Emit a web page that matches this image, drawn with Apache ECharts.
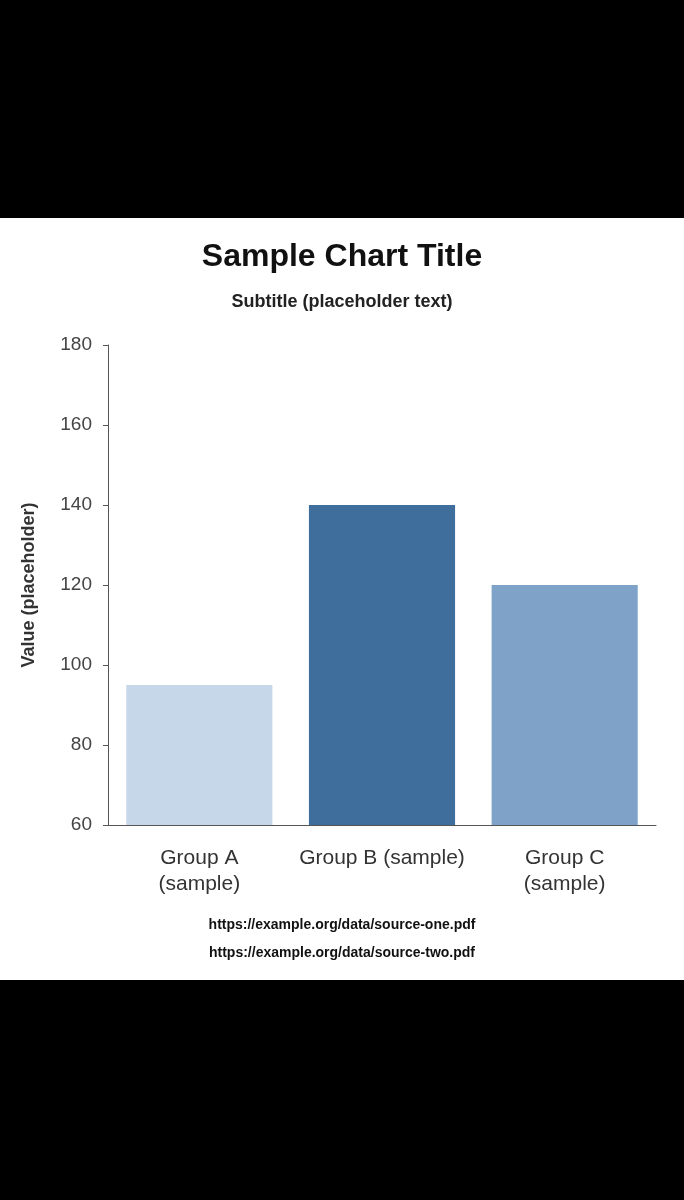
<!DOCTYPE html>
<html>
<head>
<meta charset="utf-8">
<script src="https://cdn.jsdelivr.net/npm/echarts@6/dist/echarts.min.js"></script>
<style>
  html, body { margin: 0; padding: 0; background: #000; }
  #panel { position: absolute; left: 0; top: 218px; width: 684px; height: 762px; background: #fff; }
  #chart { width: 684px; height: 762px; }
</style>
</head>
<body>
<div id="panel"><div id="chart"></div></div>
<script>
// neutral placeholder content, layout mirrors the reference
const categories = ['Group A\n(sample)', 'Group B (sample)', 'Group C\n(sample)']
const values = [95, 140, 120]
const barColors = ['#c6d7ea', '#3f6d9c', '#7fa3c8']
const sources = ['https://example.org/data/source-one.pdf', 'https://example.org/data/source-two.pdf']

const chart = echarts.init(document.getElementById('chart'))
chart.setOption({
  animation: false,
  title: [
    { text: 'Sample Chart Title', left: 'center', top: 18,
      textStyle: { fontFamily: 'Liberation Sans', fontWeight: 'bold', fontSize: 32, color: '#111' } },
    { text: 'Subtitle (placeholder text)', left: 'center', top: 70,
      textStyle: { fontFamily: 'Liberation Sans', fontWeight: 'bold', fontSize: 18, color: '#222' } },
    { text: sources.join('\n'), left: 'center', top: 688,
      textStyle: { fontFamily: 'Liberation Sans', fontSize: 14, color: '#111', lineHeight: 28 } }
  ],
  grid: { left: 108, right: 28, top: 127, bottom: 155 },
  xAxis: {
    type: 'category',
    data: categories,
    axisLine: { lineStyle: { color: '#555' } },
    axisTick: { alignWithLabel: true, lineStyle: { color: '#555' } },
    axisLabel: { fontFamily: 'Liberation Sans', fontSize: 21, color: '#333', lineHeight: 26, margin: 20, interval: 0 }
  },
  yAxis: {
    type: 'value', min: 60, max: 180, interval: 20,
    name: 'Value (placeholder)', nameLocation: 'middle', nameGap: 70,
    nameTextStyle: { fontFamily: 'Liberation Sans', fontWeight: 'bold', fontSize: 18, color: '#333' },
    axisLine: { show: true, lineStyle: { color: '#555' } },
    axisTick: { show: true, lineStyle: { color: '#555' } },
    splitLine: { show: false },
    axisLabel: { fontFamily: 'Liberation Sans', fontSize: 19, color: '#444', margin: 16 }
  },
  series: [{
    type: 'bar',
    barWidth: '80%',
    data: values.map((v, i) => ({ value: v, itemStyle: { color: barColors[i] } }))
  }]
})
</script>
</body>
</html>
